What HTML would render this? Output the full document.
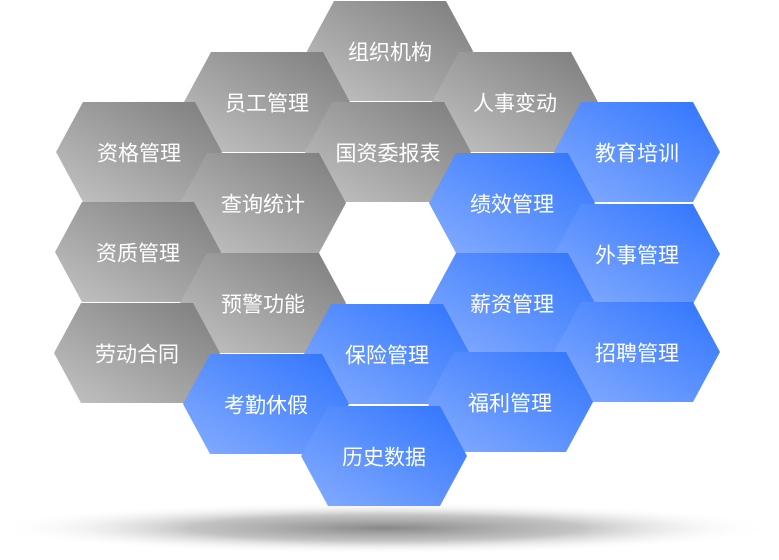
<!DOCTYPE html>
<html><head><meta charset="utf-8"><style>
html,body{margin:0;padding:0;background:#fff;width:779px;height:560px;overflow:hidden}
svg{display:block}
text{font-family:"Liberation Sans","Noto Sans CJK SC",sans-serif;font-size:21px;fill:#fff;text-anchor:middle;dominant-baseline:central}
</style></head><body>
<svg width="779" height="560" viewBox="0 0 779 560">
<defs>
<linearGradient id="g" x1="0" y1="1" x2="1" y2="0"><stop offset="0" stop-color="#c4c4c4"/><stop offset="1" stop-color="#7c7c7c"/></linearGradient>
<linearGradient id="b" x1="0" y1="1" x2="1" y2="0"><stop offset="0" stop-color="#86adff"/><stop offset="1" stop-color="#2f74fd"/></linearGradient>
<radialGradient id="s" cx="0.5" cy="0.5" r="0.5"><stop offset="0" stop-color="#888"/><stop offset="0.5" stop-color="#aaa" stop-opacity="0.7"/><stop offset="1" stop-color="#fff" stop-opacity="0"/></radialGradient>
</defs>
<ellipse cx="385" cy="528" rx="390" ry="26" fill="url(#s)"/>
<g>
<g transform="translate(390,51)"><polygon points="-83,0 -56,-50 56,-50 83,0 56,50 -56,50" fill="url(#g)"/><text dy="2">组织机构</text></g>
<g transform="translate(267,102)"><polygon points="-83,0 -56,-50 56,-50 83,0 56,50 -56,50" fill="url(#g)"/><text dy="2">员工管理</text></g>
<g transform="translate(515,102)"><polygon points="-83,0 -56,-50 56,-50 83,0 56,50 -56,50" fill="url(#g)"/><text dy="2">人事变动</text></g>
<g transform="translate(139,152)"><polygon points="-83,0 -56,-50 56,-50 83,0 56,50 -56,50" fill="url(#g)"/><text dy="2">资格管理</text></g>
<g transform="translate(637,152)"><polygon points="-83,0 -56,-50 56,-50 83,0 56,50 -56,50" fill="url(#b)"/><text dy="2">教育培训</text></g>
<g transform="translate(388,152)"><polygon points="-83,0 -56,-50 56,-50 83,0 56,50 -56,50" fill="url(#g)"/><text dy="2">国资委报表</text></g>
<g transform="translate(263,203)"><polygon points="-83,0 -56,-50 56,-50 83,0 56,50 -56,50" fill="url(#g)"/><text dy="2">查询统计</text></g>
<g transform="translate(512,203)"><polygon points="-83,0 -56,-50 56,-50 83,0 56,50 -56,50" fill="url(#b)"/><text dy="2">绩效管理</text></g>
<g transform="translate(138,252)"><polygon points="-83,0 -56,-50 56,-50 83,0 56,50 -56,50" fill="url(#g)"/><text dy="2">资质管理</text></g>
<g transform="translate(637,254)"><polygon points="-83,0 -56,-50 56,-50 83,0 56,50 -56,50" fill="url(#b)"/><text dy="2">外事管理</text></g>
<g transform="translate(263,303)"><polygon points="-83,0 -56,-50 56,-50 83,0 56,50 -56,50" fill="url(#g)"/><text dy="2">预警功能</text></g>
<g transform="translate(512,303)"><polygon points="-83,0 -56,-50 56,-50 83,0 56,50 -56,50" fill="url(#b)"/><text dy="2">薪资管理</text></g>
<g transform="translate(137,353)"><polygon points="-83,0 -56,-50 56,-50 83,0 56,50 -56,50" fill="url(#g)"/><text dy="2">劳动合同</text></g>
<g transform="translate(637,352)"><polygon points="-83,0 -56,-50 56,-50 83,0 56,50 -56,50" fill="url(#b)"/><text dy="2">招聘管理</text></g>
<g transform="translate(387,354)"><polygon points="-83,0 -56,-50 56,-50 83,0 56,50 -56,50" fill="url(#b)"/><text dy="2">保险管理</text></g>
<g transform="translate(510,402)"><polygon points="-83,0 -56,-50 56,-50 83,0 56,50 -56,50" fill="url(#b)"/><text dy="2">福利管理</text></g>
<g transform="translate(266,404)"><polygon points="-83,0 -56,-50 56,-50 83,0 56,50 -56,50" fill="url(#b)"/><text dy="2">考勤休假</text></g>
<g transform="translate(384,456)"><polygon points="-83,0 -56,-50 56,-50 83,0 56,50 -56,50" fill="url(#b)"/><text dy="2">历史数据</text></g>
</g>
</svg>
</body></html>
